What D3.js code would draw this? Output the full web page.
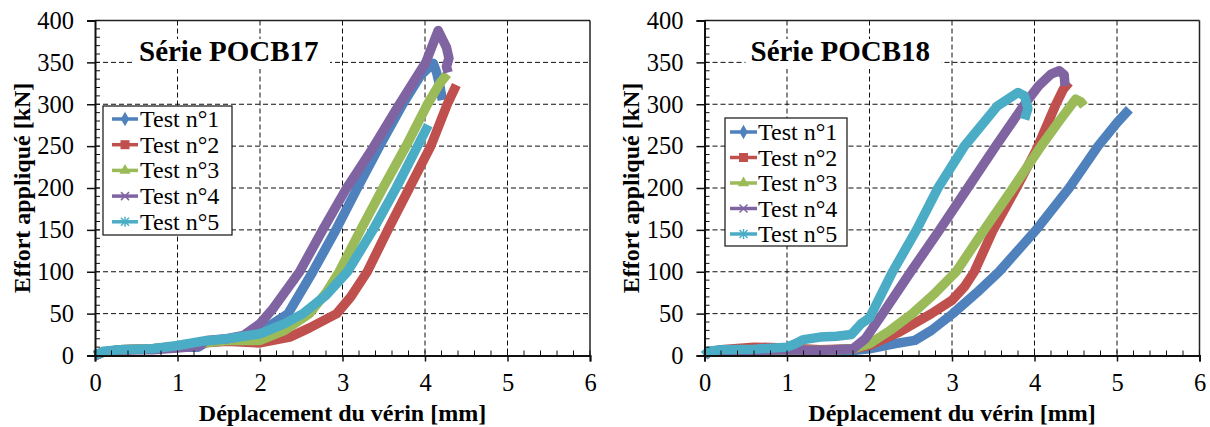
<!DOCTYPE html>
<html><head><meta charset="utf-8">
<script src="https://cdn.jsdelivr.net/npm/d3@7"></script>
</head>
<body style="margin:0">
<svg id="chart" width="1210" height="427"></svg>
<script>
// ---------- data ----------
const xTicks = [0, 1, 2, 3, 4, 5, 6];
const yTicks = [0, 50, 100, 150, 200, 250, 300, 350, 400];
const seriesNames = ["Test n°1", "Test n°2", "Test n°3", "Test n°4", "Test n°5"];
const seriesColors = ["#4F81BD", "#C0504D", "#9BBB59", "#8064A2", "#4BACC6"];
const panelTitles = ["Série POCB17", "Série POCB18"];
const xTitle = "Déplacement du vérin [mm]";
const yTitle = "Effort appliqué [kN]";

// POCB17 : [déplacement mm, effort kN]
const p17_test1 = [[0,0],[0.1,4],[0.3,7],[0.7,8],[1.0,10],[1.25,10],[1.35,16],[1.6,19],[1.8,21],[2.0,28],[2.34,50],[2.64,100],[2.92,150],[3.18,200],[3.45,250],[3.73,300],[3.95,335],[4.1,349],[4.14,338],[4.18,322],[4.21,305]];
const p17_test2 = [[0,0],[0.1,4],[0.3,7],[0.7,8],[1.0,11],[1.3,15],[1.6,17],[2.0,15],[2.36,22],[2.6,33],[2.93,50],[3.1,70],[3.3,100],[3.55,150],[3.81,200],[4.07,250],[4.27,300],[4.38,323]];
const p17_test3 = [[0,0],[0.1,4],[0.3,7],[0.7,8],[1.0,11],[1.3,15],[1.6,18],[1.8,18],[2.0,18],[2.3,30],[2.6,50],[2.8,75],[2.96,100],[3.22,150],[3.49,200],[3.77,250],[4.03,300],[4.18,325],[4.27,336]];
const p17_test4 = [[0,0],[0.1,4],[0.3,6.5],[0.7,7],[1.0,9],[1.25,11],[1.35,18],[1.6,20],[1.8,24],[2.0,38],[2.15,55],[2.48,100],[2.76,150],[3.05,200],[3.37,248],[3.69,300],[4.01,350],[4.16,388],[4.2,380],[4.26,368],[4.29,355],[4.26,345],[4.28,338]];
const p17_test5 = [[0,0],[0.1,5],[0.3,7],[0.7,8],[1.0,12],[1.3,17],[1.6,20],[1.8,23],[2.0,26],[2.3,38],[2.52,50],[2.8,72],[3.06,100],[3.37,150],[3.65,200],[3.91,250],[4.04,275]];

// POCB18
const p18_test1 = [[0,0],[0.05,4],[0.2,6],[0.6,6],[1.0,7],[1.4,6],[1.8,6],[2.0,8],[2.3,14],[2.55,18],[2.75,30],[3.01,50],[3.3,75],[3.57,100],[4.02,150],[4.42,200],[4.77,250],[5.0,278],[5.15,294]];
const p18_test2 = [[0,0],[0.05,4],[0.2,7],[0.6,10],[1.0,9],[1.4,7],[1.8,8],[2.0,12],[2.36,28],[2.75,50],[3.0,66],[3.15,82],[3.27,100],[3.5,150],[3.78,200],[4.02,245],[4.26,300],[4.35,318],[4.42,326]];
const p18_test3 = [[0,0],[0.05,4],[0.2,6],[0.6,6],[1.0,7],[1.4,6],[1.8,8],[2.0,14],[2.25,30],[2.52,50],[2.8,75],[3.05,100],[3.39,150],[3.74,200],[4.08,250],[4.3,280],[4.5,306],[4.56,303],[4.6,298]];
const p18_test4 = [[0,0],[0.05,4],[0.2,6],[0.6,6],[1.0,7],[1.4,6],[1.8,8],[1.95,20],[2.16,50],[2.5,100],[2.85,150],[3.19,200],[3.53,250],[3.88,300],[4.05,322],[4.2,336],[4.3,340],[4.36,335],[4.37,322]];
const p18_test5 = [[0,0],[0.05,5],[0.2,7],[0.6,7.5],[1.0,10],[1.1,14],[1.2,19],[1.4,22],[1.6,23],[1.78,25],[1.9,38],[2.0,45],[2.28,100],[2.57,150],[2.83,200],[3.15,250],[3.55,298],[3.8,314],[3.88,310],[3.92,295],[3.88,282]];

const panelSeries = [
  [p17_test1, p17_test2, p17_test3, p17_test4, p17_test5],
  [p18_test1, p18_test2, p18_test3, p18_test4, p18_test5]
];

// ---------- layout ----------
const FONT = "Liberation Serif";
const panels = [
  {x0: 95, x1: 590, yTitleX: 29.5, title: {x: 139, y: 61, bx: 134, bw: 196}, legend: {x: 103, y: 106, w: 129, h: 129, row0: 119, dy: 25.7, lx0: 112, lx1: 138, tx: 140}},
  {x0: 704.5, x1: 1199.5, yTitleX: 638.5, title: {x: 750.5, y: 61, bx: 745.5, bw: 196}, legend: {x: 725, y: 118, w: 122, h: 128, row0: 132, dy: 25.5, lx0: 730, lx1: 757, tx: 758}}
];
const yTop = 20.5, yBot = 355.5;

const svg = d3.select("#chart");
svg.append("rect").attr("width", 1210).attr("height", 427).attr("fill", "#fff");

panels.forEach((P, pi) => {
  const x = d3.scaleLinear().domain([0, 6]).range([P.x0, P.x1]);
  const y = d3.scaleLinear().domain([0, 400]).range([yBot, yTop]);
  const g = svg.append("g");

  // gridlines
  g.append("g").selectAll("line").data(yTicks.filter(v => v > 0 && v < 400)).join("line")
    .attr("x1", P.x0).attr("x2", P.x1).attr("y1", d => y(d)).attr("y2", d => y(d))
    .attr("stroke", "#111").attr("stroke-width", 1).attr("stroke-dasharray", "5,3");
  g.append("g").selectAll("line").data(xTicks.filter(v => v > 0 && v < 6)).join("line")
    .attr("x1", d => x(d)).attr("x2", d => x(d)).attr("y1", yTop).attr("y2", yBot)
    .attr("stroke", "#111").attr("stroke-width", 1).attr("stroke-dasharray", "5,3");

  // title with white background
  g.append("rect").attr("x", P.title.bx).attr("y", P.title.y - 22).attr("width", P.title.bw).attr("height", 30).attr("fill", "#fff");
  g.append("text").attr("x", P.title.x).attr("y", P.title.y)
    .style("font-family", FONT).style("font-size", "29px").style("font-weight", "bold").text(panelTitles[pi]);

  // curves
  const line = d3.line().x(d => x(d[0])).y(d => y(d[1])).curve(d3.curveLinear);
  panelSeries[pi].forEach((s, si) => {
    g.append("path").datum(s).attr("d", line)
      .attr("fill", "none").attr("stroke", seriesColors[si])
      .attr("stroke-width", 9.5).attr("stroke-linejoin", "round").attr("stroke-linecap", "butt");
  });

  // frame (top and right)
  g.append("line").attr("x1", P.x0).attr("x2", P.x1).attr("y1", yTop).attr("y2", yTop).attr("stroke", "#222").attr("stroke-width", 1.5);
  g.append("line").attr("x1", P.x1).attr("x2", P.x1).attr("y1", yTop).attr("y2", yBot).attr("stroke", "#222").attr("stroke-width", 1.5);

  // minor ticks inside
  g.append("g").selectAll("line").data(d3.range(0, 401, 10)).join("line")
    .attr("x1", P.x0).attr("x2", P.x0 + 5).attr("y1", d => y(d)).attr("y2", d => y(d))
    .attr("stroke", "#111").attr("stroke-width", 1);
  g.append("g").selectAll("line").data(d3.range(0, 31).map(i => i * 0.2)).join("line")
    .attr("x1", d => x(d)).attr("x2", d => x(d)).attr("y1", yBot).attr("y2", yBot - 5)
    .attr("stroke", "#111").attr("stroke-width", 1);

  // axes
  const ya = g.append("g").attr("transform", `translate(${P.x0},0)`)
    .call(d3.axisLeft(y).tickValues(yTicks).tickSize(8).tickPadding(13).tickFormat(d3.format("d")));
  const xa = g.append("g").attr("transform", `translate(0,${yBot})`)
    .call(d3.axisBottom(x).tickValues(xTicks).tickSize(6).tickPadding(12).tickFormat(d3.format("d")));
  [ya, xa].forEach(a => {
    a.attr("font-family", FONT).attr("font-size", 24);
    a.select(".domain").attr("stroke", "#111").attr("stroke-width", 2);
    a.selectAll(".tick line").attr("stroke", "#111").attr("stroke-width", 1.5);
    a.selectAll("text").style("font-family", FONT).style("font-size", "24.5px").attr("fill", "#000");
  });

  // axis titles
  g.append("text").attr("transform", `translate(${P.yTitleX},${(yTop + yBot) / 2}) rotate(-90)`)
    .attr("text-anchor", "middle").style("font-family", FONT).style("font-size", "24px").style("font-weight", "bold").text(yTitle);
  g.append("text").attr("x", (P.x0 + P.x1) / 2).attr("y", 421)
    .attr("text-anchor", "middle").style("font-family", FONT).style("font-size", "24px").style("font-weight", "bold").text(xTitle);

  // legend
  const L = P.legend;
  const lg = g.append("g");
  lg.append("rect").attr("x", L.x).attr("y", L.y).attr("width", L.w).attr("height", L.h)
    .attr("fill", "#fff").attr("stroke", "#111").attr("stroke-width", 1.2);
  seriesNames.forEach((name, i) => {
    const cy = L.row0 + i * L.dy;
    const cx = (L.lx0 + L.lx1) / 2;
    const c = seriesColors[i];
    lg.append("line").attr("x1", L.lx0).attr("x2", L.lx1).attr("y1", cy).attr("y2", cy)
      .attr("stroke", c).attr("stroke-width", 3.5);
    if (i === 0) lg.append("path").attr("d", d3.symbol(d3.symbolDiamond, 60)()).attr("transform", `translate(${cx},${cy})`).attr("fill", c);
    if (i === 1) lg.append("rect").attr("x", cx - 4.5).attr("y", cy - 4.5).attr("width", 9).attr("height", 9).attr("fill", c);
    if (i === 2) lg.append("path").attr("d", d3.symbol(d3.symbolTriangle, 55)()).attr("transform", `translate(${cx},${cy})`).attr("fill", c);
    if (i === 3) {
      [[-4, -4, 4, 4], [-4, 4, 4, -4]].forEach(s => lg.append("line").attr("x1", cx + s[0]).attr("y1", cy + s[1]).attr("x2", cx + s[2]).attr("y2", cy + s[3]).attr("stroke", c).attr("stroke-width", 1.5));
    }
    if (i === 4) {
      [[-4, -4, 4, 4], [-4, 4, 4, -4], [0, -5, 0, 5]].forEach(s => lg.append("line").attr("x1", cx + s[0]).attr("y1", cy + s[1]).attr("x2", cx + s[2]).attr("y2", cy + s[3]).attr("stroke", c).attr("stroke-width", 1.5));
    }
    lg.append("text").attr("x", L.tx).attr("y", cy + 8).style("font-family", FONT).style("font-size", "24px").text(name);
  });
});
</script>
</body></html>
